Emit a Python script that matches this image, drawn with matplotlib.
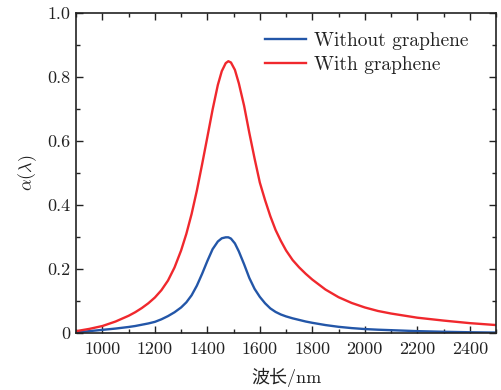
import numpy as np
import matplotlib
matplotlib.use("Agg")
import matplotlib.pyplot as plt
from matplotlib.ticker import MultipleLocator

plt.rcParams['font.family'] = ['cmr10', 'Noto Sans CJK SC']
plt.rcParams['mathtext.fontset'] = 'cm'
plt.rcParams['axes.unicode_minus'] = False

# wavelength (nm) sample points
wl = np.array([900, 950, 1000, 1050, 1100, 1125, 1150, 1175, 1200, 1225,
               1250, 1275, 1300, 1320, 1340, 1360, 1380, 1400, 1420, 1440,
               1455, 1470, 1480, 1490, 1505, 1520, 1540, 1560, 1580, 1600,
               1620, 1640, 1660, 1680, 1700, 1725, 1750, 1775, 1800, 1850,
               1900, 1950, 2000, 2050, 2100, 2200, 2300, 2400, 2500], dtype=float)

# absorption with graphene (red)
a_with = np.array([0.006, 0.013, 0.022, 0.036, 0.054, 0.065, 0.078, 0.093, 0.111, 0.134,
                   0.164, 0.205, 0.258, 0.310, 0.372, 0.445, 0.527, 0.612, 0.698, 0.775,
                   0.818, 0.843, 0.849, 0.845, 0.822, 0.780, 0.710, 0.625, 0.545, 0.470,
                   0.415, 0.365, 0.322, 0.288, 0.258, 0.228, 0.205, 0.185, 0.167, 0.136,
                   0.112, 0.094, 0.080, 0.069, 0.061, 0.048, 0.039, 0.031, 0.025])

# absorption without graphene (blue)
a_without = np.array([0.002, 0.006, 0.010, 0.014, 0.019, 0.022, 0.026, 0.030, 0.035, 0.043,
                      0.053, 0.065, 0.080, 0.096, 0.118, 0.148, 0.185, 0.225, 0.262, 0.286,
                      0.296, 0.299, 0.299, 0.295, 0.280, 0.255, 0.215, 0.172, 0.138, 0.113,
                      0.093, 0.077, 0.066, 0.058, 0.052, 0.046, 0.041, 0.036, 0.032, 0.025,
                      0.0195, 0.0155, 0.0125, 0.0105, 0.009, 0.006, 0.004, 0.0025, 0.0015])

xticks = [1000, 1200, 1400, 1600, 1800, 2000, 2200, 2400]
yticks = [0, 0.2, 0.4, 0.6, 0.8, 1.0]
ytick_labels = ['0', '0.2', '0.4', '0.6', '0.8', '1.0']

fig = plt.figure(figsize=(5.01, 3.90), dpi=100)
ax = fig.add_axes([0.152, 0.146, 0.838, 0.821])

ax.plot(wl, a_without, color='#2356a8', lw=1.7, solid_joinstyle='round',
        label='Without graphene')
ax.plot(wl, a_with, color='#f0282d', lw=1.7, solid_joinstyle='round',
        label='With graphene')

ax.set_xlim(900, 2500)
ax.set_ylim(0, 1.0)
ax.set_xticks(xticks)
ax.set_xticklabels([str(t) for t in xticks])
ax.set_yticks(yticks)
ax.set_yticklabels(ytick_labels)
ax.xaxis.set_minor_locator(MultipleLocator(100))
ax.yaxis.set_minor_locator(MultipleLocator(0.1))
ax.tick_params(which='both', direction='in', top=True, right=True,
               labelsize=13, width=1.0, color='#222222', labelcolor='#222222')
ax.tick_params(which='major', length=5)
ax.tick_params(which='minor', length=3)
ax.tick_params(axis='x', pad=6)
ax.tick_params(axis='y', pad=4)
for s in ax.spines.values():
    s.set_linewidth(1.2)
    s.set_color('#222222')

ax.set_xlabel('波长/nm', fontsize=13, labelpad=8, color='#222222')
ax.set_ylabel(r'$\alpha(\lambda)$', fontsize=13, labelpad=6, color='#222222')

ax.legend(loc='upper left', bbox_to_anchor=(0.45, 0.94), frameon=False,
          fontsize=14, handlelength=2.1, handletextpad=0.4, labelspacing=0.3,
          borderpad=0, borderaxespad=0, labelcolor='#222222')

fig.savefig('out.png', dpi=100)
